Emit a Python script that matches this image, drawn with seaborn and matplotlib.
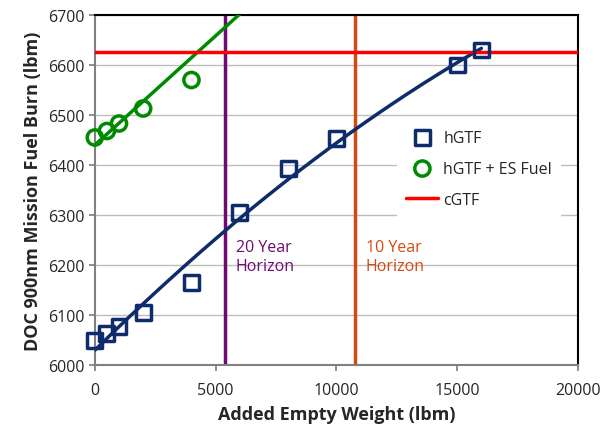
import numpy as np
import pandas as pd
import matplotlib
matplotlib.use("Agg")
import matplotlib.pyplot as plt
import seaborn as sns

# Data
hgtf_x = [0, 500, 1000, 2000, 4000, 6000, 8000, 10000, 15000, 16000]
hgtf_y = [6048, 6062, 6077, 6105, 6165, 6305, 6393, 6453, 6600, 6630]
es_x = [0, 500, 1000, 2000, 4000]
es_y = [6455, 6468, 6483, 6513, 6570]
es_trend_x = [0, 6000]
es_trend_y = [6440, 6702]
cgtf_y = 6627
horizon20_x = 5390
horizon10_x = 10770
x_ticks = [0, 5000, 10000, 15000, 20000]
y_ticks = [6000, 6100, 6200, 6300, 6400, 6500, 6600, 6700]

navy = "#0E2B6B"
green = "#008A00"
red = "#FF0000"
purple = "#6E0A72"
orange = "#D24A12"

sns.set_theme(style="white")
plt.rcParams["font.family"] = ["Open Sans", "DejaVu Sans"]

fig = plt.figure(figsize=(6.04, 4.27), dpi=100)
ax = fig.add_axes([0.157, 0.143, 0.8, 0.8195])

ax.set_xlim(0, 20000)
ax.set_ylim(6000, 6700)
ax.set_yticks(y_ticks)
ax.set_xticks(x_ticks)
ax.grid(axis="y", color="#BDBDBD", linewidth=1.0)
ax.set_axisbelow(True)

# horizon lines
ax.axvline(horizon20_x, color=purple, lw=2.5, zorder=2)
ax.axvline(horizon10_x, color=orange, lw=2.5, zorder=2)

# trend lines
coef = np.polyfit(hgtf_x, hgtf_y, 2)
xs = np.linspace(min(hgtf_x), max(hgtf_x), 200)
trend = pd.DataFrame({"x": xs, "y": np.polyval(coef, xs)})
sns.lineplot(data=trend, x="x", y="y", color=navy, lw=2.5, ax=ax, zorder=3)
sns.lineplot(x=es_trend_x, y=es_trend_y, color=green, lw=2.5, ax=ax, zorder=3)

# cGTF
ax.axhline(cgtf_y, color=red, lw=2.5, zorder=3, label="cGTF")

sns.scatterplot(x=hgtf_x, y=hgtf_y, marker="s", s=115, facecolor="none",
                edgecolor=navy, linewidth=2.5, ax=ax, zorder=4, label="hGTF",
                clip_on=False)
sns.scatterplot(x=es_x, y=es_y, marker="o", s=120, facecolor="none",
                edgecolor=green, linewidth=2.5, ax=ax, zorder=4, label="hGTF + ES Fuel",
                clip_on=False)

ax.text(horizon20_x + 450, 6252, "20 Year\nHorizon", color=purple, fontsize=11.5,
        va="top", ha="left", linespacing=1.25)
ax.text(horizon10_x + 450, 6252, "10 Year\nHorizon", color=orange, fontsize=11.5,
        va="top", ha="left", linespacing=1.25)

ax.set_xlabel("Added Empty Weight (lbm)", fontsize=13, fontweight="bold", labelpad=5)
ax.set_ylabel("DOC 900nm Mission Fuel Burn (lbm)", fontsize=13, fontweight="bold", labelpad=4)
ax.tick_params(axis="both", labelsize=11.5, length=4, direction="out", color="#808080",
               bottom=True, left=True)
ax.tick_params(axis="x", pad=8)

for side in ["left", "bottom"]:
    ax.spines[side].set_color("#808080")
    ax.spines[side].set_linewidth(1.5)
for side in ["top", "right"]:
    ax.spines[side].set_color("black")
    ax.spines[side].set_linewidth(1.5)

handles, labels = ax.get_legend_handles_labels()
order = [labels.index(l) for l in ["hGTF", "hGTF + ES Fuel", "cGTF"]]
leg = ax.legend([handles[i] for i in order], [labels[i] for i in order],
                loc="upper left", bbox_to_anchor=(0.625, 0.7), frameon=True,
                fontsize=11.5, handlelength=2.0, labelspacing=0.95, borderpad=0.6,
                handletextpad=0.3, borderaxespad=0)
leg.get_frame().set_facecolor("white")
leg.get_frame().set_edgecolor("none")
leg.get_frame().set_alpha(1)
leg.get_frame().set_boxstyle("square", pad=0)
leg.set_zorder(5)

fig.savefig("out.png", dpi=100)
